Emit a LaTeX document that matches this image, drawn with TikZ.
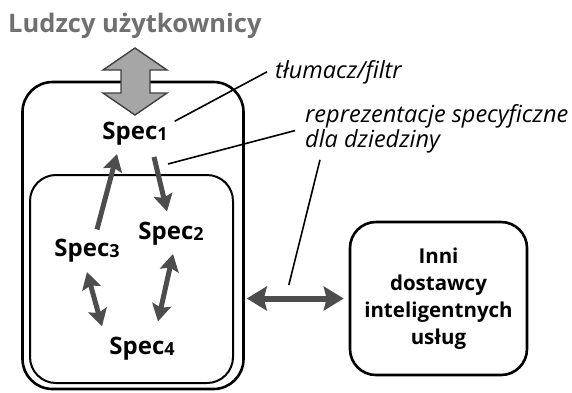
\documentclass[tikz,border=0pt]{standalone}
\usepackage{fontspec}
\setmainfont{Open Sans}
\usetikzlibrary{arrows.meta,calc}
\definecolor{arrgray}{HTML}{4D4D4D}
\definecolor{titlegray}{HTML}{707070}
\definecolor{bigfill}{HTML}{A6A6A6}
\newcommand\spsub[1]{\raisebox{-1pt}{\fontsize{18}{18}\selectfont #1}}
\tikzset{
  spec/.style={font=\bfseries\fontsize{24}{24}\selectfont, inner sep=0pt, anchor=base},
  flow/.style={draw=arrgray, line width=5pt, -{Stealth[length=17pt,width=19pt,inset=3pt]}},
  flowboth/.style={draw=arrgray, line width=5pt, {Stealth[length=17pt,width=19pt,inset=3pt]}-{Stealth[length=17pt,width=19pt,inset=3pt]}},
  callout/.style={draw=black, line width=1.6pt},
  annot/.style={font=\fontsize{23.5}{19}\selectfont\itshape, inner sep=0pt, anchor=base west, align=left},
  boxline/.style={draw=black, line width=2.6pt},
}
\begin{document}
\begin{tikzpicture}[x=1pt,y=-1pt]
\useasboundingbox (0,0) rectangle (572,392);
% title
\node[font=\bfseries\fontsize{25.5}{25.5}\selectfont, text=titlegray, inner sep=0pt, anchor=base west] (title) at (8,32) {Ludzcy użytkownicy};
% boxes
\node[boxline, rounded corners=30pt, minimum width=221pt, minimum height=307pt, inner sep=0pt] (outer) at (133,235.5) {};
\node[draw=black, line width=2pt, rounded corners=26pt, minimum width=203pt, minimum height=208pt, inner sep=0pt] (inner) at (131.5,279) {};
\node[boxline, rounded corners=26pt, minimum width=177pt, minimum height=153pt, inner sep=0pt,
      font=\bfseries\fontsize{20.5}{27}\selectfont, align=center] (inni) at (438.5,298.5) {Inni\\dostawcy\\inteligentnych\\usług};
% big double arrow (human users)
\draw[draw=black!75, line width=1.4pt, fill=bigfill, line join=miter]
  (135,48) coordinate (bigtop) -- (167,70) -- (150,70) -- (150,93) -- (167,93) -- (135,115) -- (103,93) -- (121,93) -- (121,70) -- (103,70) -- cycle;
% spec nodes
\node[spec] (s1) at (135,139) {Spec\spsub{1}};
\node[spec] (s2) at (171,239) {Spec\spsub{2}};
\node[spec] (s3) at (87,256) {Spec\spsub{3}};
\node[spec] (s4) at (142,354) {Spec\spsub{4}};
% flows
\draw[flow] ([xshift=10pt,yshift=9pt]s3.north) -- ([xshift=-18pt,yshift=-9pt]s1.south);
\draw[flow] ([xshift=19pt,yshift=-12pt]s1.south) -- ([xshift=-4pt,yshift=10pt]s2.north);
\draw[flowboth] ([yshift=-10pt]s3.south) -- ([xshift=-40pt,yshift=10pt]s4.north);
\draw[flowboth] ([xshift=2pt,yshift=-9pt]s2.south) -- ([xshift=16pt,yshift=15pt]s4.north);
\draw[draw=arrgray, line width=6pt, {Stealth[length=20pt,width=24pt,inset=3pt]}-{Stealth[length=20pt,width=24pt,inset=3pt]}, shorten <=2pt, shorten >=5pt]
  (inni.west -| outer.east) coordinate (hl) -- (inni.west);
% notes
\node[annot] (tlum) at (275,78) {tłumacz/filtr};
\node[annot] (repr) at (305,147) {reprezentacje specyficzne\\dla dziedziny};
\draw[callout] ([xshift=7pt,yshift=12pt]s1.east) -- ([xshift=-8pt]tlum.west);
\draw[callout] ([xshift=33pt,yshift=-19pt]s1.south) -- ([xshift=-10pt,yshift=-2pt]repr.west);
\draw[callout] ([xshift=15pt,yshift=-7pt]repr.south west) -- ([xshift=44pt,yshift=13.5pt]hl);
\end{tikzpicture}
\end{document}
